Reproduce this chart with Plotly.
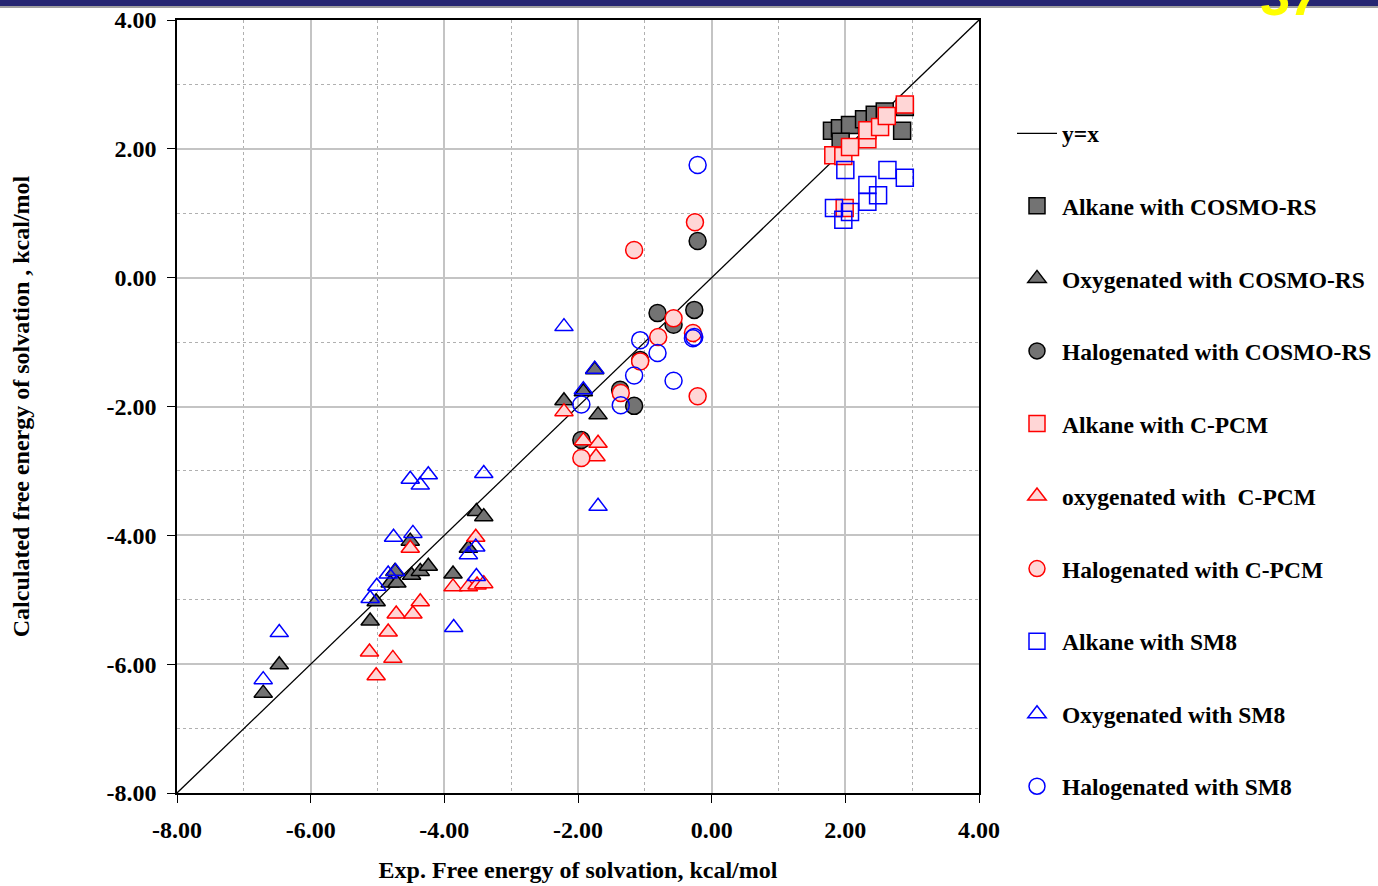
import plotly.graph_objects as go

# ---------------- data (kcal/mol) ----------------
alk_cosmo_x = [1.80, 1.92, 2.07, 2.28, 2.44, 2.59, 2.89, 2.85, 1.93]
alk_cosmo_y = [2.28, 2.32, 2.37, 2.46, 2.53, 2.58, 2.65, 2.28, 2.11]

oxy_cosmo_x = [-6.71, -6.47, -5.11, -5.02, -4.81, -4.71, -4.74, -4.49, -4.36, -4.24,
               -4.51, -3.87, -3.64, -3.52, -3.41, -2.21, -1.92, -1.75, -1.70]
oxy_cosmo_y = [-6.45, -6.01, -5.33, -5.03, -4.74, -4.74, -4.56, -4.62, -4.56, -4.48,
               -4.09, -4.60, -4.20, -3.63, -3.71, -1.91, -1.77, -1.43, -2.13]

hal_cosmo_x = [-0.21, -0.81, -0.26, -0.57, -1.07, -1.37, -1.16, -1.95]
hal_cosmo_y = [0.57, -0.55, -0.50, -0.73, -1.28, -1.74, -1.99, -2.52]

alk_cpcm_x = [1.82, 1.97, 2.07, 2.33, 2.33, 2.52, 2.62, 2.89, 1.99]
alk_cpcm_y = [1.90, 1.89, 2.03, 2.15, 2.29, 2.34, 2.51, 2.69, 1.08]

oxy_cpcm_x = [-5.12, -5.02, -4.77, -4.84, -4.72, -4.47, -4.36, -4.51, -3.87, -3.64,
              -3.51, -3.41, -3.53, -2.21, -1.92, -1.70, -1.73]
oxy_cpcm_y = [-5.81, -6.18, -5.91, -5.50, -5.22, -5.22, -5.03, -4.20, -4.80, -4.80,
              -4.77, -4.75, -4.03, -2.08, -2.53, -2.57, -2.78]

hal_cpcm_x = [-1.16, -0.25, -0.57, -0.80, -0.28, -1.07, -1.36, -0.21, -1.95]
hal_cpcm_y = [0.43, 0.86, -0.63, -0.92, -0.86, -1.30, -1.79, -1.84, -2.80]

alk_sm8_x = [2.00, 2.63, 2.89, 2.33, 2.49, 2.33, 1.83, 2.07, 1.97]
alk_sm8_y = [1.67, 1.67, 1.55, 1.44, 1.28, 1.18, 1.08, 1.02, 0.90]

oxy_sm8_x = [-6.71, -6.47, -5.11, -5.01, -4.84, -4.73, -4.76, -4.47, -4.51, -4.36,
             -4.24, -3.86, -3.64, -3.53, -3.52, -3.41, -2.21, -1.92, -1.75, -1.70]
oxy_sm8_y = [-6.24, -5.51, -4.98, -4.79, -4.60, -4.56, -4.03, -3.97, -3.13, -3.22,
             -3.06, -5.43, -4.30, -4.18, -4.64, -3.04, -0.76, -1.74, -1.42, -3.55]

hal_sm8_x = [-0.21, -1.07, -0.81, -0.26, -0.28, -1.16, -0.57, -1.36, -1.95]
hal_sm8_y = [1.75, -0.97, -1.17, -0.92, -0.94, -1.52, -1.60, -1.98, -1.97]

axis_range = [-8, 4]
tick_vals = [-8, -6, -4, -2, 0, 2, 4]
tick_text = ["-8.00", "-6.00", "-4.00", "-2.00", "0.00", "2.00", "4.00"]

# ---------------- styles ----------------
FONT = "Liberation Serif"
GRAY = dict(color="#737373", line=dict(color="black", width=1.5))
PINK = dict(color="#ffd6d6", line=dict(color="#ff0000", width=1.5))
BLUE = dict(color="rgba(0,0,0,0)", line=dict(color="#0000ff", width=1.5))

SQ, TRI, CIR = 17, 16, 17

fig = go.Figure()

fig.add_trace(go.Scatter(x=axis_range, y=axis_range, mode="lines",
                         line=dict(color="black", width=1.3), name="y=x",
                         legendgroup="g0"))

series = [
    ("Alkane with COSMO-RS", alk_cosmo_x, alk_cosmo_y, "square", SQ, GRAY),
    ("Oxygenated with COSMO-RS", oxy_cosmo_x, oxy_cosmo_y, "triangle-up", TRI, GRAY),
    ("Halogenated with COSMO-RS", hal_cosmo_x, hal_cosmo_y, "circle", CIR, GRAY),
    ("Alkane with C-PCM", alk_cpcm_x, alk_cpcm_y, "square", SQ, PINK),
    ("oxygenated with  C-PCM", oxy_cpcm_x, oxy_cpcm_y, "triangle-up", TRI, PINK),
    ("Halogenated with C-PCM", hal_cpcm_x, hal_cpcm_y, "circle", CIR, PINK),
    ("Alkane with SM8", alk_sm8_x, alk_sm8_y, "square", SQ, BLUE),
    ("Oxygenated with SM8", oxy_sm8_x, oxy_sm8_y, "triangle-up", TRI, BLUE),
    ("Halogenated with SM8", hal_sm8_x, hal_sm8_y, "circle", CIR, BLUE),
]
for i, (name, xs, ys, sym, size, st) in enumerate(series):
    fig.add_trace(go.Scatter(
        x=xs, y=ys, mode="markers", name=name, legendgroup=f"g{i+1}",
        marker=dict(symbol=sym, size=size, color=st["color"], line=st["line"]),
    ))

axis_common = dict(
    range=axis_range, tickvals=tick_vals, ticktext=tick_text,
    showgrid=True, gridcolor="#c4c4c4", gridwidth=1.5,
    zeroline=False, showline=True, mirror=True, linecolor="black", linewidth=1.5,
    ticks="outside", ticklen=8, tickcolor="black",
    tickfont=dict(family=FONT, size=24, color="black", weight="bold"),
    minor=dict(dtick=1, showgrid=True, griddash="dot", gridcolor="#b0b0b0", gridwidth=1.2),
)

fig.update_xaxes(**axis_common, ticklabelstandoff=6,
                 title=dict(text="Exp. Free energy of solvation, kcal/mol",
                            font=dict(family=FONT, size=24, color="black", weight="bold"),
                            standoff=20))
fig.update_yaxes(**axis_common, ticklabelstandoff=6,
                 title=dict(text="Calculated free energy of solvation , kcal/mol",
                            font=dict(family=FONT, size=24, color="black", weight="bold"),
                            standoff=70))

# slide header bar
fig.add_shape(type="rect", xref="paper", yref="paper",
              x0=-0.23, x1=1.5, y0=(793 - 6) / 773, y1=1.06,
              fillcolor="#262673", line=dict(width=0), layer="above")
fig.add_shape(type="line", xref="paper", yref="paper",
              x0=-0.23, x1=1.5, y0=(793 - 7) / 773, y1=(793 - 7) / 773,
              line=dict(color="#a0a0a0", width=2), layer="above")
fig.add_annotation(text="<i>37</i>", xref="paper", yref="paper",
                   x=(1292 - 177) / 802, y=(793 - 28) / 773, xanchor="center", yanchor="bottom",
                   showarrow=False,
                   font=dict(family="Liberation Sans", size=54, color="#ffff00", weight="bold"))

fig.update_layout(
    width=1378, height=886,
    margin=dict(l=177, r=399, t=20, b=93, autoexpand=False),
    paper_bgcolor="white", plot_bgcolor="white",
    showlegend=True,
    legend=dict(x=(1012 - 177) / 802, y=(793 - 111.5) / 773, xanchor="left", yanchor="top",
                font=dict(family=FONT, size=23.5, color="black", weight="bold"),
                tracegroupgap=39, bgcolor="rgba(0,0,0,0)", itemwidth=40),
)

fig.write_html("out.html", config={"displayModeBar": False},
               post_script="document.body.style.margin='0';document.body.style.overflow='hidden';")
